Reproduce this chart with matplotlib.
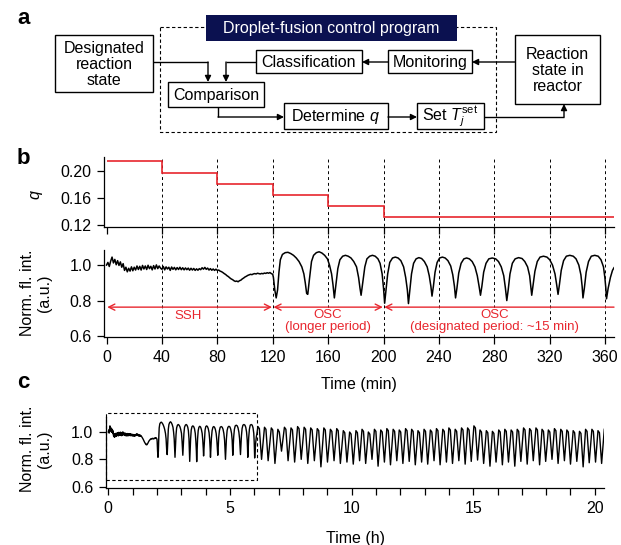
import numpy as np
import matplotlib
matplotlib.use('Agg')
import matplotlib.pyplot as plt
from matplotlib.patches import Rectangle
from matplotlib.lines import Line2D
import matplotlib.transforms as mtransforms

plt.rcParams['font.family'] = ['Liberation Sans', 'DejaVu Sans']
plt.rcParams['mathtext.fontset'] = 'custom'
plt.rcParams['mathtext.rm'] = 'Liberation Sans'
plt.rcParams['mathtext.it'] = 'Liberation Sans:italic'

# ---------------- data ----------------
q_edges_min = [0, 40, 80, 120, 160, 200]
q_values = [0.2147, 0.1975, 0.181, 0.1647, 0.148, 0.1313]
time_ticks_min = [0, 40, 80, 120, 160, 200, 240, 280, 320, 360]

# steady state (SSH) part, one value per minute, 0..120 min
ssh_signal = [1.000, 1.015, 0.992, 1.022, 1.045, 1.012, 1.032, 1.002, 1.025, 0.998,
              1.018, 0.988, 1.008, 0.970, 0.988, 0.962, 0.982, 0.966, 0.990, 0.968,
              0.988, 0.972, 0.995, 0.975, 0.993, 0.972, 0.998, 0.978, 0.995, 0.975,
              0.999, 0.980, 0.993, 0.973, 0.997, 0.978, 1.001, 0.980, 0.995, 0.983,
              0.976, 0.992, 0.973, 0.990, 0.978, 0.988, 0.970, 0.989, 0.976, 0.987,
              0.973, 0.986, 0.975, 0.988, 0.974, 0.985, 0.973, 0.984, 0.974, 0.983,
              0.971, 0.982, 0.972, 0.981, 0.970, 0.979, 0.971, 0.980, 0.974, 0.985,
              0.977, 0.987, 0.976, 0.983, 0.972, 0.980, 0.971, 0.978, 0.970, 0.977,
              0.970, 0.972, 0.966, 0.963, 0.958, 0.952, 0.947, 0.940, 0.935, 0.928,
              0.922, 0.918, 0.912, 0.908, 0.910, 0.906, 0.912, 0.915, 0.922, 0.927,
              0.933, 0.937, 0.942, 0.945, 0.948, 0.946, 0.950, 0.952, 0.950, 0.954,
              0.952, 0.950, 0.953, 0.951, 0.955, 0.953, 0.957, 0.954, 0.958, 0.952,
              0.948]

# oscillating part (min, value)
osc_time = [120.5, 121.5, 122.5, 123.5, 124.5, 125.5, 127, 129, 131, 133, 135, 137, 139, 141, 142.5, 143.5, 144.5, 145.3,
            146.5, 148, 149.5, 151.5, 153.5, 155.5, 157.5, 159.5, 161, 162.5, 163.5, 164.5,
            165.5, 167, 168.5, 170.5, 172.5, 174.5, 176.5, 178.5, 180.5, 182, 183, 183.8,
            185, 186.5, 188, 190, 192, 194, 196, 197.5, 199, 200, 200.8,
            201.8, 203, 204.5, 206.5, 208.5, 210.5, 212.5, 214.5, 216, 217.2, 218,
            219, 220.2, 221.7, 223.5, 225.5, 227.5, 229.5, 231.5, 233, 234.2, 235,
            236, 237.2, 238.7, 240.5, 242.5, 244.5, 246.5, 248.5, 250, 251.2, 252,
            253, 254.3, 256, 258, 260, 262, 264, 266, 267.7, 269, 270,
            271, 272.3, 274, 276, 278.5, 281, 283, 285, 286.8, 288, 289,
            290, 291.3, 293, 295, 297.5, 300, 302, 304, 305.5, 306.3, 307,
            308, 309.3, 311, 313, 315.5, 318, 320, 322, 323.8, 325, 326,
            327, 328.3, 330, 332, 334.5, 337, 339, 341, 342.5, 343.4, 344,
            345, 346.3, 348, 350, 352.5, 355, 357, 358.8, 359.8, 360.5, 361,
            362.2, 363.8, 365.3, 366.4]
osc_signal = [0.93, 0.86, 0.815, 0.86, 0.96, 1.03, 1.06, 1.07, 1.072, 1.065, 1.055, 1.04, 1.02, 0.99, 0.95, 0.90, 0.84, 0.835,
              0.92, 1.02, 1.055, 1.07, 1.075, 1.068, 1.055, 1.035, 1.0, 0.95, 0.89, 0.815,
              0.88, 0.98, 1.03, 1.05, 1.055, 1.05, 1.04, 1.02, 0.99, 0.93, 0.87, 0.83,
              0.90, 0.99, 1.035, 1.05, 1.055, 1.05, 1.035, 1.01, 0.95, 0.87, 0.785,
              0.86, 0.95, 1.015, 1.04, 1.045, 1.04, 1.025, 0.99, 0.93, 0.86, 0.783,
              0.86, 0.95, 1.01, 1.035, 1.042, 1.037, 1.02, 0.99, 0.94, 0.88, 0.825,
              0.88, 0.96, 1.015, 1.04, 1.045, 1.04, 1.025, 0.995, 0.945, 0.88, 0.815,
              0.87, 0.955, 1.01, 1.035, 1.04, 1.035, 1.02, 0.99, 0.94, 0.88, 0.83,
              0.88, 0.96, 1.01, 1.035, 1.04, 1.035, 1.02, 0.99, 0.94, 0.87, 0.80,
              0.86, 0.95, 1.01, 1.035, 1.042, 1.037, 1.02, 0.99, 0.94, 0.88, 0.83,
              0.89, 0.965, 1.02, 1.045, 1.05, 1.045, 1.03, 1.0, 0.95, 0.89, 0.835,
              0.89, 0.97, 1.025, 1.05, 1.055, 1.05, 1.035, 1.0, 0.945, 0.88, 0.815,
              0.87, 0.96, 1.02, 1.05, 1.055, 1.05, 1.03, 0.99, 0.93, 0.87, 0.81,
              0.87, 0.93, 0.97, 0.985]

# long-run record (h): peaks and troughs after the first 6.1 h
c_peak_h = [6.15, 6.42, 6.70, 6.97, 7.24, 7.51, 7.78, 8.05, 8.32, 8.59, 8.86, 9.13, 9.39, 9.66,
            9.92, 10.18, 10.43, 10.69, 10.94, 11.20, 11.45, 11.71, 11.96, 12.22, 12.47, 12.73,
            12.98, 13.24, 13.49, 13.75, 14.00, 14.26, 14.52, 14.77, 15.03, 15.28, 15.54, 15.79,
            16.05, 16.30, 16.56, 16.81, 17.07, 17.32, 17.58, 17.83, 18.09, 18.34, 18.60, 18.85,
            19.11, 19.37, 19.62, 19.88, 20.13]
c_peak_v = [1.04, 1.035, 1.03, 1.02, 1.035, 1.03, 1.04, 1.035, 1.03, 1.025, 1.03, 1.02, 1.025, 1.01,
            1.0, 1.01, 1.02, 1.0, 1.02, 1.015, 1.025, 1.02, 1.015, 1.025, 1.02, 1.01, 1.02, 1.015,
            1.025, 1.02, 1.03, 1.02, 1.03, 1.03, 1.045, 1.015, 1.01, 1.005, 1.015, 1.02, 1.015,
            1.02, 1.03, 1.025, 1.03, 1.02, 1.015, 1.025, 1.02, 1.015, 1.01, 1.005, 1.02, 1.02, 1.01]
# value just after each peak (rounded top of each cycle)
c_top_h = [6.21, 6.48, 6.76, 7.03, 7.30, 7.57, 7.84, 8.11, 8.38, 8.65, 8.92, 9.19, 9.45, 9.72,
           9.98, 10.24, 10.49, 10.75, 11.00, 11.26, 11.51, 11.77, 12.02, 12.28, 12.53, 12.79,
           13.04, 13.30, 13.55, 13.81, 14.06, 14.32, 14.58, 14.83, 15.09, 15.34, 15.60, 15.85,
           16.11, 16.36, 16.62, 16.87, 17.13, 17.38, 17.64, 17.89, 18.15, 18.40, 18.66, 18.91,
           19.17, 19.43, 19.68, 19.94, 20.19]
c_top_v = [1.025, 1.02, 1.015, 1.0, 1.02, 1.015, 1.025, 1.02, 1.015, 1.01, 1.015, 1.005, 1.01, 0.995,
           0.985, 0.995, 1.005, 0.985, 1.005, 1.0, 1.01, 1.005, 1.0, 1.01, 1.005, 0.995, 1.005, 1.0,
           1.01, 1.005, 1.015, 1.005, 1.015, 1.015, 1.03, 1.0, 0.995, 0.99, 1.0, 1.005, 1.0,
           1.005, 1.015, 1.01, 1.015, 1.005, 1.0, 1.01, 1.005, 1.0, 0.995, 0.99, 1.005, 1.005, 0.995]
c_trough_h = [6.30, 6.57, 6.85, 7.12, 7.39, 7.66, 7.93, 8.20, 8.47, 8.74, 9.01, 9.28, 9.54, 9.81,
              10.07, 10.33, 10.58, 10.84, 11.09, 11.35, 11.60, 11.86, 12.11, 12.37, 12.62, 12.88,
              13.13, 13.39, 13.64, 13.90, 14.15, 14.41, 14.67, 14.92, 15.18, 15.43, 15.69, 15.94,
              16.20, 16.45, 16.71, 16.96, 17.22, 17.47, 17.73, 17.98, 18.24, 18.49, 18.75, 19.00,
              19.26, 19.52, 19.77, 20.03, 20.28]
c_trough_v = [0.80, 0.79, 0.77, 0.86, 0.79, 0.78, 0.80, 0.77, 0.79, 0.745, 0.78, 0.79, 0.77, 0.78,
              0.765, 0.79, 0.77, 0.80, 0.75, 0.78, 0.76, 0.79, 0.77, 0.785, 0.76, 0.78, 0.765, 0.79,
              0.76, 0.78, 0.77, 0.79, 0.765, 0.785, 0.795, 0.77, 0.75, 0.78, 0.76, 0.78, 0.75,
              0.785, 0.765, 0.79, 0.76, 0.785, 0.80, 0.77, 0.79, 0.765, 0.785, 0.745, 0.775, 0.78, 0.77]
c_end_h, c_end_v = 20.39, 1.02

c_ticks_h = [0, 5, 10, 15, 20]

# ---------------- figure ----------------
W, H = 621, 545
fig = plt.figure(figsize=(W / 100, H / 100), dpi=100)
RED = '#e8262e'
FS = 11.5


def fx(px):
    return px / W


def fy(py):
    return 1 - py / H


def axes_px(l, t, r, b):
    return fig.add_axes([l / W, 1 - b / H, (r - l) / W, (b - t) / H])


# ---- panel a: diagram ----
axd = fig.add_axes([0, 0, 1, 1])
axd.set_xlim(0, W)
axd.set_ylim(H, 0)
axd.axis('off')

axd.add_patch(Rectangle((160, 27), 336, 105, fill=False, ec='black', lw=0.8, ls=(0, (3, 2.2))))
axd.add_patch(Rectangle((206, 15), 251, 26, fc='#0b1150', ec='none', zorder=3))
axd.text(331.5, 28.5, 'Droplet-fusion control program', color='white', ha='center', va='center',
         fontsize=FS, zorder=4)


def box(x0, y0, x1, y1, text):
    axd.add_patch(Rectangle((x0, y0), x1 - x0, y1 - y0, fc='white', ec='black', lw=1.0, zorder=2))
    axd.text((x0 + x1) / 2, (y0 + y1) / 2 + 1, text, ha='center', va='center', fontsize=FS,
             linespacing=1.05, zorder=4)


box(55, 35, 153, 92, 'Designated\nreaction\nstate')
box(256, 50, 362, 73, 'Classification')
box(388, 50, 472, 73, 'Monitoring')
box(515, 35, 600, 104, 'Reaction\nstate in\nreactor')
box(168, 82, 264, 107, 'Comparison')
box(284, 103, 388, 129, r'Determine $q$')
box(417, 103, 484, 129, r'Set $T_j^{\mathrm{set}}$')


def arrow(pts):
    xs = [p[0] for p in pts]
    ys = [p[1] for p in pts]
    axd.plot(xs[:-1], ys[:-1], color='black', lw=1.0, solid_capstyle='butt')
    axd.annotate('', xy=pts[-1], xytext=pts[-2],
                 arrowprops=dict(arrowstyle='-|>', color='black', lw=1.0,
                                 mutation_scale=9, shrinkA=0, shrinkB=0))


arrow([(153, 62), (208, 62), (208, 82)])
arrow([(256, 62), (226, 62), (226, 82)])
arrow([(388, 62), (362, 62)])
arrow([(515, 62), (472, 62)])
arrow([(218, 107), (218, 117), (284, 117)])
arrow([(388, 117), (417, 117)])
arrow([(484, 117), (564, 117), (564, 104)])

# ---- panel b ----
XL = (-1.6, 366.4)
axq = axes_px(104.3, 157.3, 614, 227.3)
axb = axes_px(104.3, 250, 614, 337.3)
axc = axes_px(106, 417, 604.3, 488.3)

for ax in (axq, axb, axc):
    for s in ('top', 'right'):
        ax.spines[s].set_visible(False)
    for s in ('left', 'bottom'):
        ax.spines[s].set_linewidth(0.9)
    ax.tick_params(direction='out', length=5, width=0.9, labelsize=FS, pad=4)
    ax.patch.set_alpha(0)

axq.set_xlim(*XL)
axq.set_ylim(0.1166, 0.2203)
axq.set_xticks(time_ticks_min)
axq.set_xticklabels([])
axq.set_yticks([0.12, 0.16, 0.20])
axq.set_yticklabels(['0.12', '0.16', '0.20'])
axq.stairs(q_values, q_edges_min + [XL[1]], baseline=None, color=RED, lw=1.2)

axb.set_xlim(*XL)
axb.set_ylim(0.593, 1.085)
axb.set_xticks(time_ticks_min)
axb.set_yticks([0.6, 0.8, 1.0])
axb.set_yticklabels(['0.6', '0.8', '1.0'])

b_time = list(np.arange(len(ssh_signal))) + osc_time
b_signal = ssh_signal + osc_signal
axb.plot(b_time, b_signal, color='black', lw=1.1, zorder=3)

# dashed guide lines across both b panels
trans = mtransforms.blended_transform_factory(axb.transData, fig.transFigure)
for t in time_ticks_min[1:]:
    fig.add_artist(Line2D([t, t], [fy(337.3), fy(157.3)], transform=trans, color='black',
                          lw=0.7, ls=(0, (3, 3)), zorder=0))

# red regime arrows
ya = 0.763
for x0, x1, style in [(0.5, 119.5, '<->'), (120.5, 199.5, '<->'), (200.5, XL[1], '<-')]:
    axb.annotate('', xy=(x1, ya), xytext=(x0, ya),
                 arrowprops=dict(arrowstyle=style, color=RED, lw=1.0, mutation_scale=11,
                                 shrinkA=0, shrinkB=0))
bg = dict(facecolor='white', edgecolor='none', pad=0.5)
for x, y, s in [(59, 0.714, 'SSH'), (160, 0.719, 'OSC'), (160, 0.652, '(longer period)'),
                (280, 0.719, 'OSC'), (280, 0.652, '(designated period: ~15 min)')]:
    axb.text(x, y, s, color=RED, ha='center', va='center', fontsize=9.5, bbox=bg, zorder=4)

# ---- panel c ----
c_time = [t / 60 for t in b_time]
c_signal = list(b_signal)
for ph, pv, uh, uv, th, tv in zip(c_peak_h, c_peak_v, c_top_h, c_top_v, c_trough_h, c_trough_v):
    c_time += [ph, uh, th]
    c_signal += [pv, uv, tv]
c_time.append(c_end_h)
c_signal.append(c_end_v)

axc.set_xlim(-0.095, 20.39)
axc.set_ylim(0.588, 1.11)
axc.set_xticks(c_ticks_h)
axc.set_xticks(np.arange(0, 21, 1), minor=True)
axc.tick_params(which='minor', direction='out', length=5, width=0.9)
axc.set_yticks([0.6, 0.8, 1.0])
axc.set_yticklabels(['0.6', '0.8', '1.0'])
axc.plot(c_time, c_signal, color='black', lw=1.0)
axc.add_patch(Rectangle((-0.1, 0.648), 6.2, 1.141 - 0.648, fill=False, ec='black', lw=0.8,
                        ls=(0, (3, 2.2)), clip_on=False))

# ---- labels ----
fig.text(fx(35), fy(195), 'q', rotation=90, style='italic', ha='center', va='center', fontsize=FS)
fig.text(fx(36), fy(293), 'Norm. fl. int.\n(a.u.)', rotation=90, ha='center', va='center',
         fontsize=FS, linespacing=1.1)
fig.text(fx(36), fy(449), 'Norm. fl. int.\n(a.u.)', rotation=90, ha='center', va='center',
         fontsize=FS, linespacing=1.1)
fig.text(fx(359), fy(385), 'Time (min)', ha='center', va='center', fontsize=FS)
fig.text(fx(355), fy(539), 'Time (h)', ha='center', va='center', fontsize=FS)

for lab, y in (('a', 19), ('b', 158), ('c', 383)):
    fig.text(fx(17), fy(y), lab, ha='left', va='center', fontsize=16, fontweight='bold')

fig.savefig('out.png', dpi=100)
